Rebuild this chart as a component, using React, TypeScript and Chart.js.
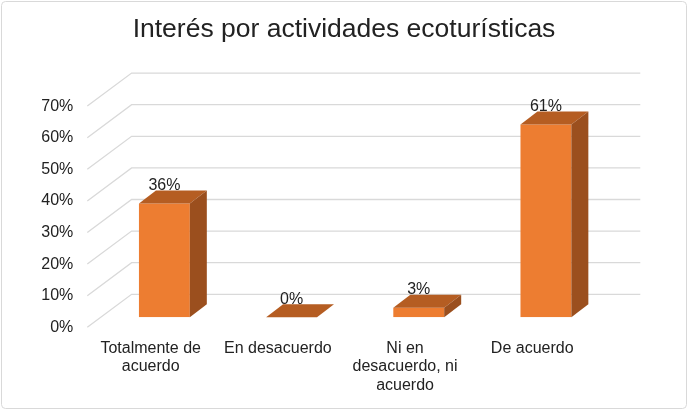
import React, { useEffect, useRef } from "react";
import { Chart, registerables } from "chart.js";

Chart.register(...registerables);

// ---- data ----
const TITLE = "Interés por actividades ecoturísticas";
const categories: string[][] = [
  ["Totalmente de", "acuerdo"],
  ["En desacuerdo"],
  ["Ni en", "desacuerdo, ni", "acuerdo"],
  ["De acuerdo"],
];
const values: number[] = [36, 0, 3, 61];
const yTicks: number[] = [0, 10, 20, 30, 40, 50, 60, 70];
const Y_MIN = 0;
const Y_MAX = 70;
const Y_STEP = 10;

// ---- style ----
const FONT = "'Liberation Sans', Arial, sans-serif";
const TEXT = "#222222";
const GRID = "#D9D9D9";
const FRONT = "#ED7D31";
const TOP = "#B55D22";
const SIDE = "#9B4F1E";

// 3D offsets relative to the bar-front plane
const FRONT_DX = -13.5;
const FRONT_DY = 10;
const BACK_DX = 30.8;
const BACK_DY = -23;
const BAR_DX = 17;
const BAR_DY = -13;

const threeD = {
  id: "threeD",
  beforeDraw(chart: any) {
    const { ctx, width, height } = chart;
    ctx.save();
    ctx.strokeStyle = GRID;
    ctx.lineWidth = 1;
    const r = 4;
    const x0 = 1.5, y0 = 1.5, x1 = width - 1.5, y1 = height - 1.5;
    ctx.beginPath();
    ctx.moveTo(x0 + r, y0);
    ctx.lineTo(x1 - r, y0);
    ctx.quadraticCurveTo(x1, y0, x1, y0 + r);
    ctx.lineTo(x1, y1 - r);
    ctx.quadraticCurveTo(x1, y1, x1 - r, y1);
    ctx.lineTo(x0 + r, y1);
    ctx.quadraticCurveTo(x0, y1, x0, y1 - r);
    ctx.lineTo(x0, y0 + r);
    ctx.quadraticCurveTo(x0, y0, x0 + r, y0);
    ctx.stroke();
    ctx.restore();
  },
  beforeDatasetsDraw(chart: any) {
    const { ctx, chartArea } = chart;
    const y = chart.scales.y;
    ctx.save();
    ctx.strokeStyle = GRID;
    ctx.lineWidth = 1.3;
    for (const v of yTicks) {
      const py = y.getPixelForValue(v);
      ctx.beginPath();
      ctx.moveTo(chartArea.left + FRONT_DX, py + FRONT_DY);
      ctx.lineTo(chartArea.left + BACK_DX, py + BACK_DY);
      ctx.lineTo(chartArea.right + BACK_DX, py + BACK_DY);
      ctx.stroke();
    }
    ctx.restore();
  },
  afterDatasetsDraw(chart: any) {
    const { ctx } = chart;
    const meta = chart.getDatasetMeta(0);
    ctx.save();
    meta.data.forEach((bar: any, i: number) => {
      const { x, y, base, width } = bar.getProps(["x", "y", "base", "width"], true);
      const l = x - width / 2;
      const r = x + width / 2;
      ctx.fillStyle = TOP;
      ctx.beginPath();
      ctx.moveTo(l, y);
      ctx.lineTo(l + BAR_DX, y + BAR_DY);
      ctx.lineTo(r + BAR_DX, y + BAR_DY);
      ctx.lineTo(r, y);
      ctx.closePath();
      ctx.fill();
      ctx.fillStyle = SIDE;
      ctx.beginPath();
      ctx.moveTo(r, y);
      ctx.lineTo(r + BAR_DX, y + BAR_DY);
      ctx.lineTo(r + BAR_DX, base + BAR_DY);
      ctx.lineTo(r, base);
      ctx.closePath();
      ctx.fill();
      ctx.fillStyle = TEXT;
      ctx.font = `16px ${FONT}`;
      ctx.textAlign = "center";
      ctx.textBaseline = "middle";
      ctx.fillText(`${values[i]}%`, x, y - 18);
    });
    ctx.restore();
  },
};

export default function App() {
  const ref = useRef<HTMLCanvasElement | null>(null);
  useEffect(() => {
    if (!ref.current) return;
    Chart.defaults.font.family = FONT;
    const chart = new Chart(ref.current, {
      type: "bar",
      data: {
        labels: categories,
        datasets: [
          {
            data: values,
            backgroundColor: FRONT,
            borderWidth: 0,
            categoryPercentage: 0.4,
            barPercentage: 1,
          },
        ],
      },
      options: {
        responsive: false,
        animation: false,
        layout: { padding: { left: 0, right: 0, top: 0, bottom: 0 } },
        plugins: {
          legend: { display: false },
          tooltip: { enabled: false },
          title: {
            display: true,
            text: TITLE,
            color: TEXT,
            font: { family: FONT, size: 26.5, weight: "normal", lineHeight: 1.2 },
            padding: { top: 14.1, bottom: 50.2 },
          },
        },
        scales: {
          x: {
            grid: { display: false, drawTicks: false },
            border: { display: false },
            afterFit: (s: any) => {
              s.height = 92.7;
            },
            ticks: {
              color: TEXT,
              font: { family: FONT, size: 16, lineHeight: 1.15 },
              padding: 22,
              labelOffset: -13.7,
              maxRotation: 0,
              minRotation: 0,
              autoSkip: false,
            },
          },
          y: {
            min: Y_MIN,
            max: Y_MAX,
            grid: { display: false, drawTicks: false },
            border: { display: false },
            afterFit: (s: any) => {
              s.width = 100.8;
            },
            ticks: {
              stepSize: Y_STEP,
              color: TEXT,
              font: { family: FONT, size: 16 },
              padding: 27.5,
              labelOffset: 10,
              callback: (v: any) => `${v}%`,
            },
          },
          yRight: {
            position: "right",
            min: Y_MIN,
            max: Y_MAX,
            grid: { display: false, drawTicks: false },
            border: { display: false },
            ticks: { display: false },
            afterFit: (s: any) => {
              s.width = 78.5;
            },
          },
        },
      },
      plugins: [threeD],
    });
    return () => chart.destroy();
  }, []);
  return (
    <div style={{ position: "fixed", left: 0, top: 0, width: 688, height: 410, background: "#fff" }}>
      <canvas ref={ref} width={688} height={410} style={{ display: "block" }} />
    </div>
  );
}
